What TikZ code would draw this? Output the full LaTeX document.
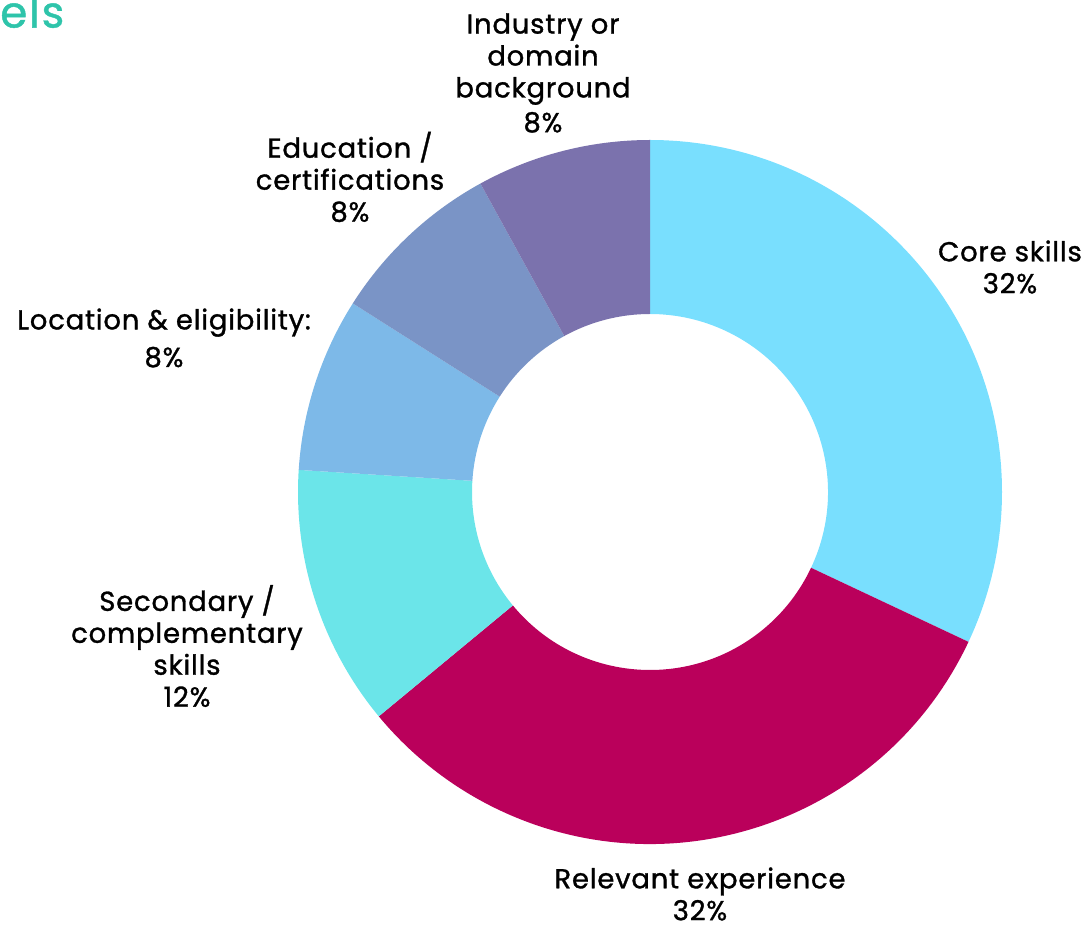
\documentclass[tikz,border=0pt]{standalone}
\usepackage{fontspec}
\setmainfont{Poppins}
\newfontfamily\lblfont{Poppins}[FakeBold=1.2, LetterSpace=3]
\newfontfamily\titlefont{Poppins}[FakeBold=1, LetterSpace=4]
\usepackage{tikz}

\definecolor{coreblue}{HTML}{79DFFE}
\definecolor{expmagenta}{HTML}{BA005B}
\definecolor{seccyan}{HTML}{6BE5E9}
\definecolor{locblue}{HTML}{7DB9E8}
\definecolor{edublue}{HTML}{7A94C6}
\definecolor{indpurple}{HTML}{7B72AD}
\definecolor{titleteal}{HTML}{2EC4AA}

\tikzset{
  lbl/.style={align=center, font=\lblfont\fontsize{19.5}{22.7}\selectfont, text=black, inner sep=0pt},
}

\begin{document}
\begin{tikzpicture}[x=0.025cm, y=0.025cm]
            \useasboundingbox (0,0) rectangle (1088,929);
            \coordinate (c) at (650,437);
            % donut slices, clockwise from the top
            \fill[coreblue] ([shift={(90:352)}]c) arc[start angle=90, end angle=-25.2, radius=352] -- ([shift={(-25.2:178)}]c) arc[start angle=-25.2, end angle=90, radius=178] -- cycle;
            \fill[expmagenta] ([shift={(-25.2:352)}]c) arc[start angle=-25.2, end angle=-140.4, radius=352] -- ([shift={(-140.4:178)}]c) arc[start angle=-140.4, end angle=-25.2, radius=178] -- cycle;
            \fill[seccyan] ([shift={(-140.4:352)}]c) arc[start angle=-140.4, end angle=-183.6, radius=352] -- ([shift={(-183.6:178)}]c) arc[start angle=-183.6, end angle=-140.4, radius=178] -- cycle;
            \fill[locblue] ([shift={(176.4:352)}]c) arc[start angle=176.4, end angle=147.6, radius=352] -- ([shift={(147.6:178)}]c) arc[start angle=147.6, end angle=176.4, radius=178] -- cycle;
            \fill[edublue] ([shift={(147.6:352)}]c) arc[start angle=147.6, end angle=118.8, radius=352] -- ([shift={(118.8:178)}]c) arc[start angle=118.8, end angle=147.6, radius=178] -- cycle;
            \fill[indpurple] ([shift={(118.8:352)}]c) arc[start angle=118.8, end angle=90, radius=352] -- ([shift={(90:178)}]c) arc[start angle=90, end angle=118.8, radius=178] -- cycle;
            % labels
            \node[anchor=north west, inner sep=0pt, text=titleteal, font=\titlefont\fontsize{31}{34}\selectfont] (title) at (0,934) {els};
            \node[lbl] (core) at (1010,662) {Core skills\\32\%};
            \node[lbl] (experience) at (700,35) {Relevant experience\\32\%};
            \node[lbl] (secondary) at (187,283) {Secondary /\\complementary\\skills\\12\%};
            \node[lbl] (location) at (164,591) {Location \& eligibility:\\[4pt]8\%};
            \node[lbl] (education) at (350,752) {Education /\\certifications\\8\%};
            \node[lbl] (industry) at (543,856) {Industry or\\domain\\background\\[2pt]8\%};
        \end{tikzpicture}
\end{document}
